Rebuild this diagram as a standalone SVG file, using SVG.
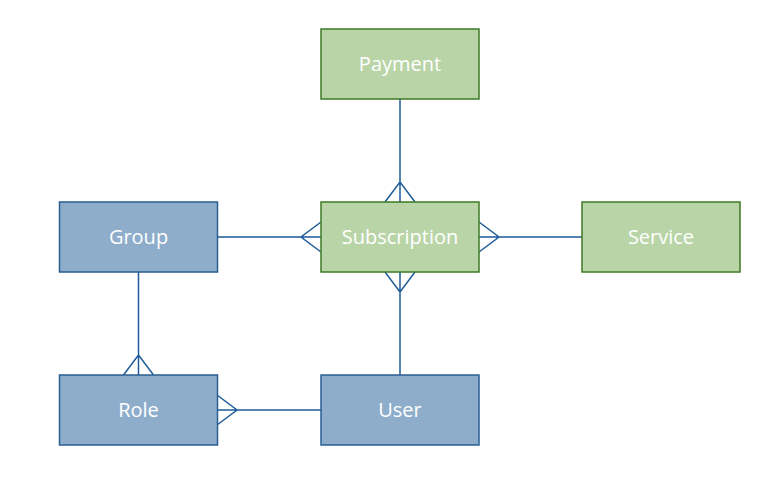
<svg xmlns="http://www.w3.org/2000/svg" width="783" height="479" viewBox="0 0 783 479">
<style>
.g rect{fill:#b9d5a8;stroke:#3e7a24;stroke-width:1.5}
.b rect{fill:#8eadcb;stroke:#2a5e90;stroke-width:1.5}
text{font-family:"Open Sans","Liberation Sans",sans-serif;font-size:20px;fill:#ffffff;text-anchor:middle}
#connectors path{fill:none;stroke:#1f5c99;stroke-width:1.5}
</style>
<rect width="783" height="479" fill="#ffffff"/>
<g id="connectors">
<path d="M400 99V202M385 202L400 182L415 202"/>
<path d="M217 237H321M321 222L301 237L321 252"/>
<path d="M479 237H582M479 222L499 237L479 252"/>
<path d="M400 272V375M385 272L400 292L415 272"/>
<path d="M138.5 272V375M123.5 375L138.5 355L153.5 375"/>
<path d="M217 410H321M217 395L237 410L217 425"/>
</g>
<g id="payment" class="g"><rect x="321" y="29" width="158" height="70"/><text x="400" y="71">Payment</text></g>
<g id="subscription" class="g"><rect x="321" y="202" width="158" height="70"/><text x="400" y="244">Subscription</text></g>
<g id="service" class="g"><rect x="582" y="202" width="158" height="70"/><text x="661" y="244">Service</text></g>
<g id="group" class="b"><rect x="59.5" y="202" width="158" height="70"/><text x="138.5" y="244">Group</text></g>
<g id="role" class="b"><rect x="59.5" y="375" width="158" height="70"/><text x="138.5" y="417">Role</text></g>
<g id="user" class="b"><rect x="321" y="375" width="158" height="70"/><text x="400" y="417">User</text></g>
</svg>
